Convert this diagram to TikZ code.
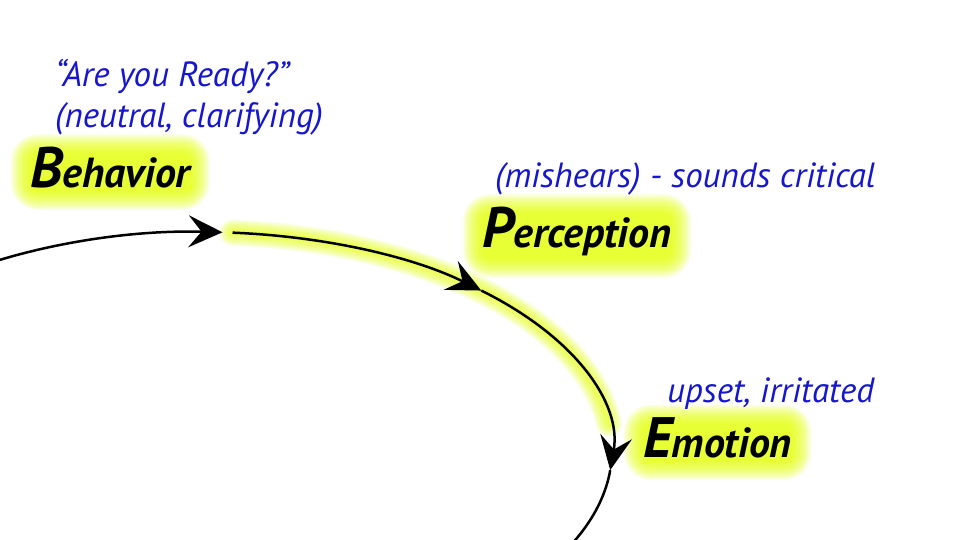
\documentclass[tikz,border=0pt]{standalone}
\usepackage{fontspec}
\setmainfont{PT Sans}
\usetikzlibrary{arrows.meta,calc}
\definecolor{glowy}{RGB}{228,255,0}
\definecolor{labblue}{RGB}{22,22,205}
\pgfdeclarelayer{back}
\pgfdeclarelayer{bg}
\pgfsetlayers{back,bg,main}
\tikzset{
  bluetxt/.style={anchor=base west, inner sep=0pt, text=labblue, font=\fontsize{35}{40}\selectfont\itshape},
  blacktxt/.style={anchor=base west, inner sep=0pt, text=black, font=\fontsize{42}{46}\selectfont\bfseries\itshape},
  ring/.style={line width=2.5pt, black},
  tipped/.style={ring, -{Stealth[length=34pt, width=32pt, inset=13pt]}},
  arcglow/.style={glowy, opacity=0.15, line cap=round},
  boxglow/.style={fill=glowy, opacity=0.11},
}
\newcommand{\bigfirst}[2]{{\fontsize{57}{58}\selectfont #1}#2}
\newcommand{\glowfor}[1]{%
  \begin{pgfonlayer}{bg}
    \foreach \i in {0,...,12}{
      \fill[boxglow, rounded corners={8pt+1.6*\i pt}]
        ($(#1.south west)+(-1.6*\i pt,-1.6*\i pt-2pt)$) rectangle ($(#1.north east)+(1.6*\i pt,1.6*\i pt-6pt)$);
    }
  \end{pgfonlayer}}
\begin{document}
\begin{tikzpicture}[x=1pt,y=1pt]
  \useasboundingbox (0,0) rectangle (956,540);
  \clip (0,0) rectangle (956,540);
  \begin{pgfonlayer}{back}
    \fill[white] (0,0) rectangle (956,540);
  \end{pgfonlayer}
  \coordinate (c) at (201,90);
  \coordinate (t1s) at ($(c)+(125:411 and 218)$);
  \coordinate (t1e) at ($(c)+(87:411 and 218)$);
  \coordinate (t2s) at ($(c)+(85.6:411 and 218)$);
  \coordinate (t2e) at ($(c)+(47:411 and 218)$);
  \coordinate (t3e) at ($(c)+(-5.3:411 and 218)$);
  % glow along the arc
  \begin{pgfonlayer}{bg}
    \foreach \w in {26,22,18,14,10,6}{
      \draw[arcglow, line width=\w pt] (t2s) arc[start angle=85.6, end angle=7, x radius=411, y radius=218];
    }
  \end{pgfonlayer}
  % the ring
  \draw[tipped] (t1s) arc[start angle=125, end angle=87, x radius=411, y radius=218];
  \draw[tipped] (t2s) arc[start angle=85.6, end angle=47, x radius=411, y radius=218];
  \draw[tipped] (t2e) arc[start angle=47, end angle=-5.3, x radius=411, y radius=218];
  \draw[ring] (t3e) arc[start angle=-5.3, end angle=-40, x radius=411, y radius=218];
  % labels
  \node[bluetxt] (q1) at (55,453) {“Are you Ready?”};
  \node[bluetxt] (q2) at (55,412) {(neutral, clarifying)};
  \node[blacktxt] (beh) at (30,352) {\bigfirst{B}{ehavior}};
  \glowfor{beh}
  \node[bluetxt] (q3) at (495,352) {(mishears) - sounds critical};
  \node[blacktxt] (per) at (482,292) {\bigfirst{P}{erception}};
  \glowfor{per}
  \node[bluetxt] (q4) at (667,137) {upset, irritated};
  \node[blacktxt] (emo) at (643,82) {\bigfirst{E}{motion}};
  \glowfor{emo}
\end{tikzpicture}
\end{document}
